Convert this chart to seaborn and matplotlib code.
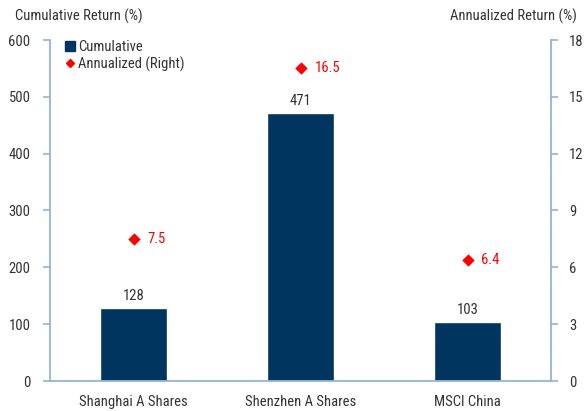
import matplotlib
matplotlib.use("Agg")
import matplotlib.pyplot as plt
from matplotlib.lines import Line2D
import seaborn as sns
import pandas as pd

categories = ["Shanghai A Shares", "Shenzhen A Shares", "MSCI China"]
cumulative = [128, 471, 103]
annualized = [7.5, 16.5, 6.4]
left_ticks = [0, 100, 200, 300, 400, 500, 600]
right_ticks = [0, 3, 6, 9, 12, 15, 18]

sns.set_style("white")
plt.rcParams["font.family"] = ["Roboto Condensed", "Archivo Narrow", "Barlow Condensed", "DejaVu Sans"]

NAVY = "#003560"
RED = "#ff0000"
SPINE = "#95b3d7"
TXT = "#333333"
FS = 10.5

df = pd.DataFrame({"cat": categories, "cum": cumulative, "ann": annualized})

fig = plt.figure(figsize=(5.88, 4.11), dpi=100)
ax = fig.add_axes([50/588, 1 - 381/411, 501/588, 341/411])
sns.barplot(data=df, x="cat", y="cum", color=NAVY, width=0.4, saturation=1, ax=ax)
ax.set_xlim(-0.5, 2.5)
ax.set_ylim(0, 600)
ax.set_yticks(left_ticks)
ax.set_xlabel("")
ax.set_ylabel("")

ax2 = ax.twinx()
sns.scatterplot(data=df, x="cat", y="ann", marker="D", color=RED, s=40, edgecolor=RED,
                linewidth=0, ax=ax2, zorder=5)
ax2.set_ylim(0, 18)
ax2.set_yticks(right_ticks)
ax2.set_xlim(-0.5, 2.5)
ax2.set_xlabel("")
ax2.set_ylabel("")

for a in (ax, ax2):
    for s in a.spines.values():
        s.set_color(SPINE)
        s.set_linewidth(1.3)
    a.spines["top"].set_visible(False)
ax.spines["right"].set_visible(False)
ax2.spines["left"].set_visible(False)
ax2.spines["bottom"].set_visible(False)

ax.tick_params(axis="y", direction="out", length=5, width=1.2, color=SPINE, labelsize=FS,
               labelcolor=TXT, pad=9, left=True)
ax.tick_params(axis="x", length=0, labelsize=FS, labelcolor=TXT, pad=10)
ax2.tick_params(axis="y", direction="out", length=5, width=1.2, color=SPINE, labelsize=FS,
                labelcolor=TXT, pad=8, right=True)

for i, v in enumerate(cumulative):
    ax.annotate(f"{v}", (i, v), xytext=(0, 4), textcoords="offset points",
                ha="center", va="bottom", fontsize=FS, color=TXT)
for i, v in enumerate(annualized):
    ax2.annotate(f"{v}", (i, v), xytext=(10, 0), textcoords="offset points",
                 ha="left", va="center", fontsize=FS, color=RED)

fig.text(15/588, 1 - 16/411, "Cumulative Return (%)", ha="left", va="center", fontsize=FS, color=TXT)
fig.text(577/588, 1 - 16/411, "Annualized Return (%)", ha="right", va="center", fontsize=FS, color=TXT)

handles = [Line2D([], [], marker="s", color=NAVY, linestyle="", markersize=6.5),
           Line2D([], [], marker="D", color=RED, linestyle="", markersize=4.2)]
ax.legend(handles, ["Cumulative", "Annualized (Right)"], loc="upper left",
          bbox_to_anchor=(10/501, 1.017), frameon=False, fontsize=FS,
          handlelength=0.6, handletextpad=0.25, borderaxespad=0, labelspacing=0.15,
          labelcolor=TXT)

fig.savefig("out.png", dpi=100)
